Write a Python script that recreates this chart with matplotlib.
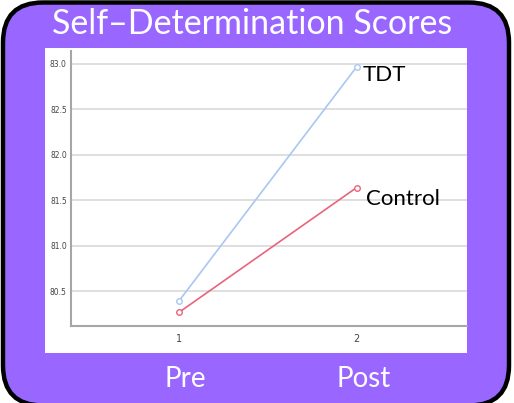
import matplotlib
matplotlib.use("Agg")
import matplotlib.pyplot as plt
from matplotlib.patches import FancyBboxPatch, Rectangle

# data
sessions = [1, 2]
tdt = [80.39, 82.97]
control = [80.265, 81.64]
yticks = [80.5, 81.0, 81.5, 82.0, 82.5, 83.0]
phase_labels = ["Pre", "Post"]

purple = "#9966FF"
W, H = 514, 403

fig = plt.figure(figsize=(W / 100, H / 100), dpi=100)
fig.patch.set_facecolor("white")

# background in pixel coords
bg = fig.add_axes([0, 0, 1, 1])
bg.set_xlim(0, W)
bg.set_ylim(H, 0)
bg.axis("off")
bg.add_patch(FancyBboxPatch((3, 2.5), 506, 403,
                            boxstyle="round,pad=0,rounding_size=40",
                            facecolor=purple, edgecolor="black", linewidth=3.2,
                            clip_on=False))
bg.add_patch(Rectangle((45, 48), 422, 305, facecolor="white", edgecolor="none"))
bg.text(252, 24, "Self\u2013Determination Scores", color="white", fontsize=24.5,
        family="Lato", ha="center", va="center")
bg.text(185, 379, phase_labels[0], color="white", fontsize=20, family="Lato",
        ha="center", va="center")
bg.text(364, 379, phase_labels[1], color="white", fontsize=20, family="Lato",
        ha="center", va="center")

# main chart
x0, x1, ytop, ybot = 71, 467, 51, 326
ax = fig.add_axes([x0 / W, (H - ybot) / H, (x1 - x0) / W, (ybot - ytop) / H])
ax.set_facecolor("none")
ax.set_xlim(0.393, 2.62)
ax.set_ylim(80.115, 83.143)
ax.set_yticks(yticks)
ax.set_yticklabels([f"{v:.1f}" for v in yticks])
ax.set_xticks(sessions)
ax.grid(axis="y", color="#D9D9D9", linewidth=1.2)
ax.set_axisbelow(True)
for s in ["top", "right"]:
    ax.spines[s].set_visible(False)
for s in ["left", "bottom"]:
    ax.spines[s].set_color("#A6A6A6")
    ax.spines[s].set_linewidth(1.5)
ax.tick_params(axis="y", length=0, pad=3, labelsize=5.5, labelcolor="#444444")
ax.tick_params(axis="x", length=0, pad=6, labelsize=7, labelcolor="#444444")

ax.plot(sessions, tdt, color="#A9C7F2", linewidth=1.2, marker="o", markersize=4,
        markerfacecolor="white", markeredgewidth=1)
ax.plot(sessions, control, color="#E8647C", linewidth=1.2, marker="o", markersize=4,
        markerfacecolor="white", markeredgewidth=1)

ax.annotate("TDT", (sessions[1], tdt[1]), xytext=(6, -8), textcoords="offset pixels",
            fontsize=16, family="Lato", ha="left", va="center", color="black")
ax.annotate("Control", (sessions[1], control[1]), xytext=(9, -11), textcoords="offset pixels",
            fontsize=16, family="Lato", ha="left", va="center", color="black")

fig.savefig("out.png", dpi=100)
